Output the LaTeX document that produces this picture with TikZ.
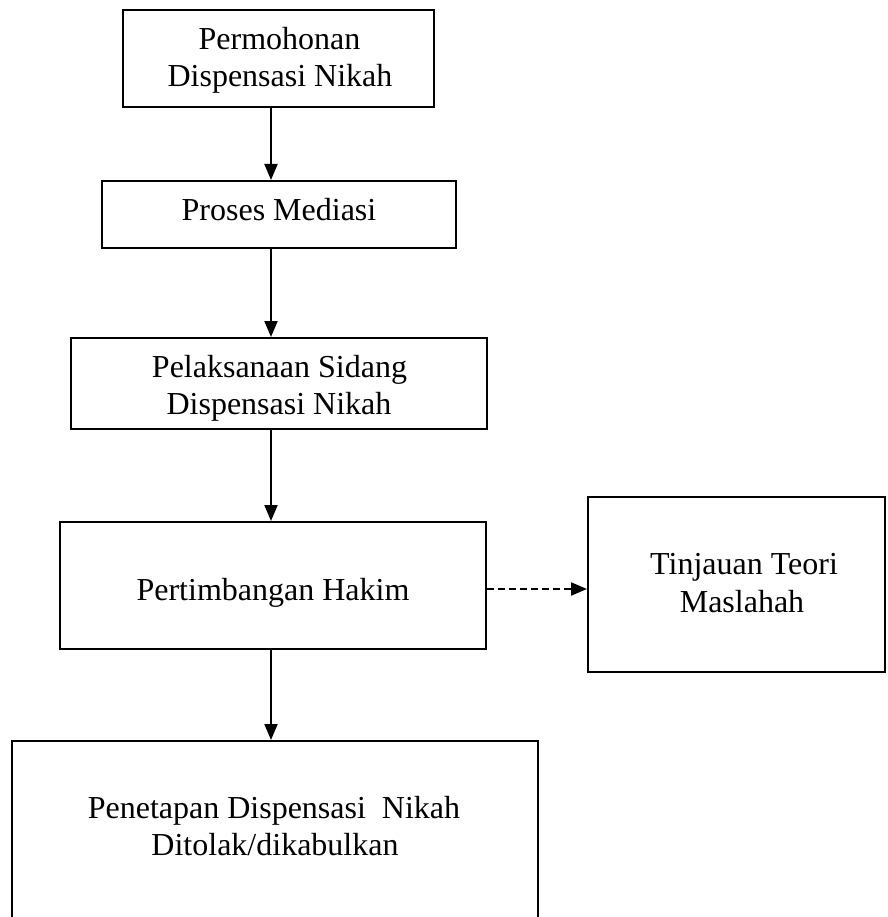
\documentclass[tikz,border=0pt]{standalone}
\usepackage{fontspec}
\setmainfont{Liberation Serif}
\usetikzlibrary{arrows.meta}
\begin{document}
\begin{tikzpicture}[x=1pt,y=-1pt,
  box/.style={draw=black,line width=2pt,rectangle,inner sep=0pt,fill=none},
  txt/.style={anchor=base,inner sep=0pt,font=\fontsize{32}{37}\selectfont},
  arr/.style={line width=2pt,-{Triangle[length=16pt,width=13pt]}},
  darr/.style={line width=2pt,dash pattern=on 7pt off 4pt,-{Triangle[length=16pt,width=13pt]}}]
\clip (0,0) rectangle (887,917);
\fill[white] (0,0) rectangle (887,917);
% boxes
\node[box,minimum width=311pt,minimum height=97pt] (b1) at (278.5,58.5) {};
\node[box,minimum width=354pt,minimum height=67pt] (b2) at (279,214.5) {};
\node[box,minimum width=416pt,minimum height=91pt] (b3) at (279,383.5) {};
\node[box,minimum width=426pt,minimum height=127pt] (b4) at (273,585.5) {};
\node[box,minimum width=297pt,minimum height=175pt] (b5) at (736.5,584.5) {};
\node[box,minimum width=526pt,minimum height=219pt] (b6) at (275,850.5) {};
% texts
\node[txt] (t1a) at (279.5,50) {Permohonan};
\node[txt] (t1b) at (280,87) {Dispensasi Nikah};
\node[txt] (t2) at (279,221) {Proses Mediasi};
\node[txt] (t3a) at (279.5,377) {Pelaksanaan Sidang};
\node[txt] (t3b) at (279,414) {Dispensasi Nikah};
\node[txt] (t4) at (273,600) {Pertimbangan Hakim};
\node[txt] (t5a) at (744,574) {Tinjauan Teori};
\node[txt] (t5b) at (742,612) {Maslahah};
\node[txt] (t6a) at (274,818) {Penetapan Dispensasi\ \ Nikah};
\node[txt] (t6b) at (275,855) {Ditolak/dikabulkan};
% connectors
\coordinate (ax) at (271,0);
\coordinate (dy) at (0,589);
\draw[arr] (b1.south -| ax) -- (b2.north -| ax);
\draw[arr] (b2.south -| ax) -- (b3.north -| ax);
\draw[arr] (b3.south -| ax) -- (b4.north -| ax);
\draw[arr] (b4.south -| ax) -- (b6.north -| ax);
\draw[darr] (b4.east |- dy) -- (b5.west |- dy);
\end{tikzpicture}
\end{document}
